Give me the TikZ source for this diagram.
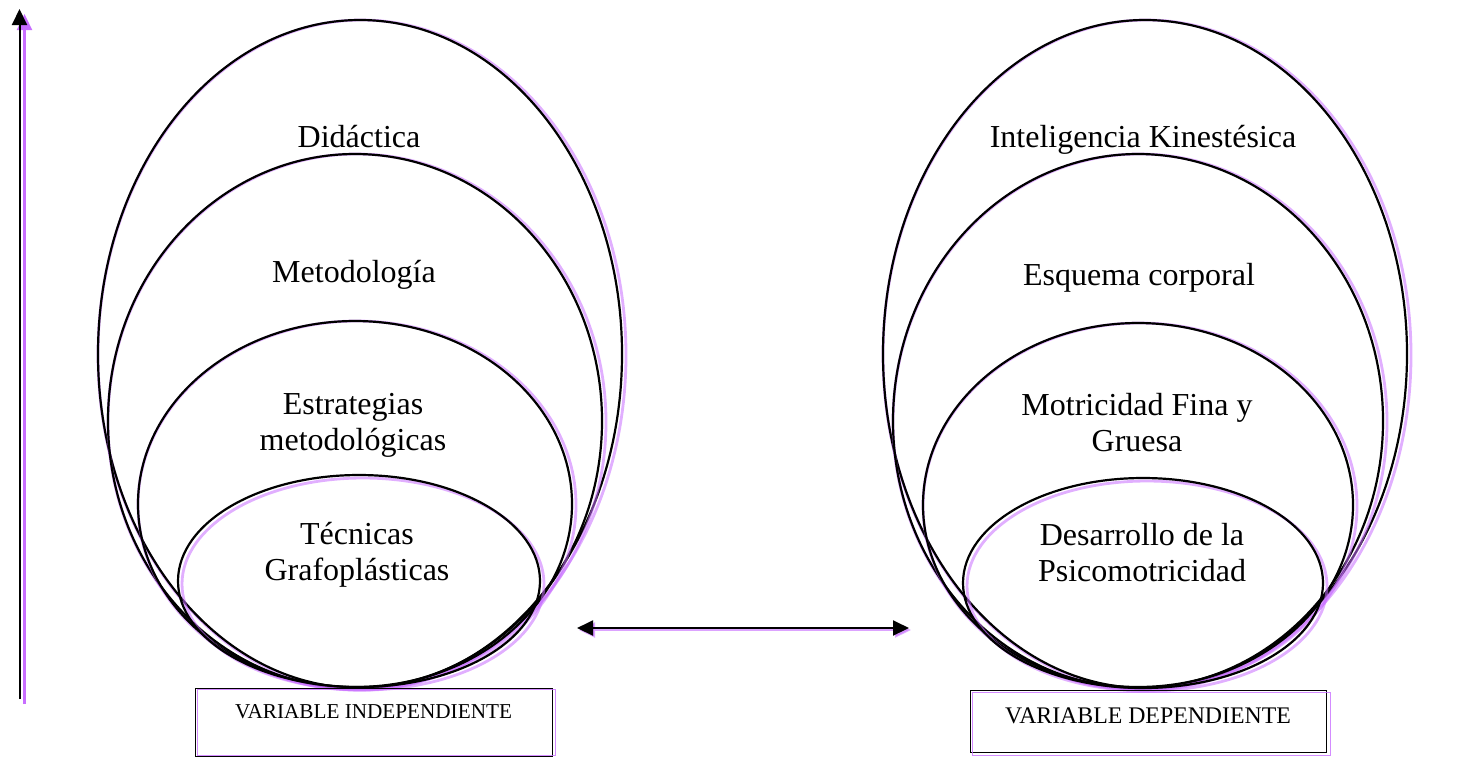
\documentclass[tikz,border=0pt]{standalone}
\usepackage{fontspec}
\setmainfont{Liberation Serif}
\usetikzlibrary{arrows.meta, positioning, calc}
\definecolor{lila}{RGB}{200,110,255}

\begin{document}
\begin{tikzpicture}[x=0.5pt, y=-0.5pt,
    capa/.style={draw=black, line width=1.1pt},
    sombra/.style={draw=lila, line width=1.4pt, opacity=0.55},
    etiqueta/.style={font=\fontsize{16pt}{18pt}\selectfont, align=center, anchor=base, inner sep=0pt},
    caja/.style={draw=black, line width=0.5pt, inner sep=0pt},
    punta/.style={line width=1pt, {Triangle[length=8pt,width=7.5pt]}-{Triangle[length=8pt,width=7.5pt]}}
  ]
  \useasboundingbox (0,0) rectangle (1481,757);

  % eje vertical
  \coordinate (base) at (19.5,699);
  \coordinate (cima) at (19.5,9);
  \draw[lila, line width=1.2pt, -{Triangle[length=8pt,width=7.5pt]}] ($(base)+(5,5)$) -- ($(cima)+(5,5)$);
  \draw[line width=1pt, -{Triangle[length=8pt,width=7.5pt]}] (base) -- (cima);

  % variable independiente
  \draw[sombra] (362,355) ellipse [x radius=132pt, y radius=167.5pt];
  \draw[capa] (360,354) ellipse [x radius=131pt, y radius=167pt];
  \draw[sombra] (357,422) ellipse [x radius=124.5pt, y radius=134pt];
  \draw[capa] (355,421) ellipse [x radius=123.5pt, y radius=133.5pt];
  \draw[sombra] (357,505) ellipse [x radius=109.5pt, y radius=92pt];
  \draw[capa] (355,504) ellipse [x radius=108.5pt, y radius=91.5pt];
  \draw[sombra] (363,584) ellipse [x radius=90.5pt, y radius=53pt];
  \draw[capa] (359,581) ellipse [x radius=90.5pt, y radius=53pt];

  \node[etiqueta] (didactica) at (359,147) {Didáctica};
  \node[etiqueta] (metodologia) at (354,282) {Metodología};
  \node[etiqueta] (estrategias) at (353,450) {Estrategias\\metodológicas};
  \node[etiqueta] (tecnicas) at (357,580) {Técnicas\\Grafoplásticas};

  % variable dependiente
  \draw[sombra] (1147,355) ellipse [x radius=132pt, y radius=167.5pt];
  \draw[capa] (1145,354) ellipse [x radius=131pt, y radius=167pt];
  \draw[sombra] (1140,422) ellipse [x radius=123.5pt, y radius=134pt];
  \draw[capa] (1138,421) ellipse [x radius=122.5pt, y radius=133.5pt];
  \draw[sombra] (1140,506) ellipse [x radius=108.5pt, y radius=91.5pt];
  \draw[capa] (1138,505) ellipse [x radius=107.5pt, y radius=91pt];
  \draw[sombra] (1147,586) ellipse [x radius=90pt, y radius=52.5pt];
  \draw[capa] (1143,583) ellipse [x radius=90pt, y radius=52.5pt];

  \node[etiqueta] (inteligencia) at (1143,147) {Inteligencia Kinestésica};
  \node[etiqueta] (esquema) at (1139,285) {Esquema corporal};
  \node[etiqueta] (motricidad) at (1137,451) {Motricidad Fina y\\Gruesa};
  \node[etiqueta] (desarrollo) at (1142,581) {Desarrollo de la\\Psicomotricidad};

  % relacion entre variables
  \coordinate (izq) at (577,628);
  \coordinate (der) at (909,628);
  \draw[punta, draw=lila, fill=lila, opacity=0.6] ($(izq)+(2,2)$) -- ($(der)+(2,2)$);
  \draw[punta] (izq) -- (der);

  % cajas
  \node[caja, minimum width=178.5pt, font=\fontsize{10.6pt}{12pt}\selectfont,
        text height=15pt, text depth=19pt] (independiente) at (373.5,722) {VARIABLE INDEPENDIENTE};
  \draw[lila, line width=0.6pt, opacity=0.8] ($(independiente.south west)+(3,-1)$) rectangle ($(independiente.north east)+(3,2)$);
  \node[caja, minimum width=178pt, font=\fontsize{11.9pt}{13pt}\selectfont,
        text height=16.5pt, text depth=14.5pt] (dependiente) at (1148,721) {VARIABLE DEPENDIENTE};
  \draw[lila, line width=0.6pt, opacity=0.8] ($(dependiente.south west)+(3,3)$) rectangle ($(dependiente.north east)+(4,3)$);
\end{tikzpicture}
\end{document}
